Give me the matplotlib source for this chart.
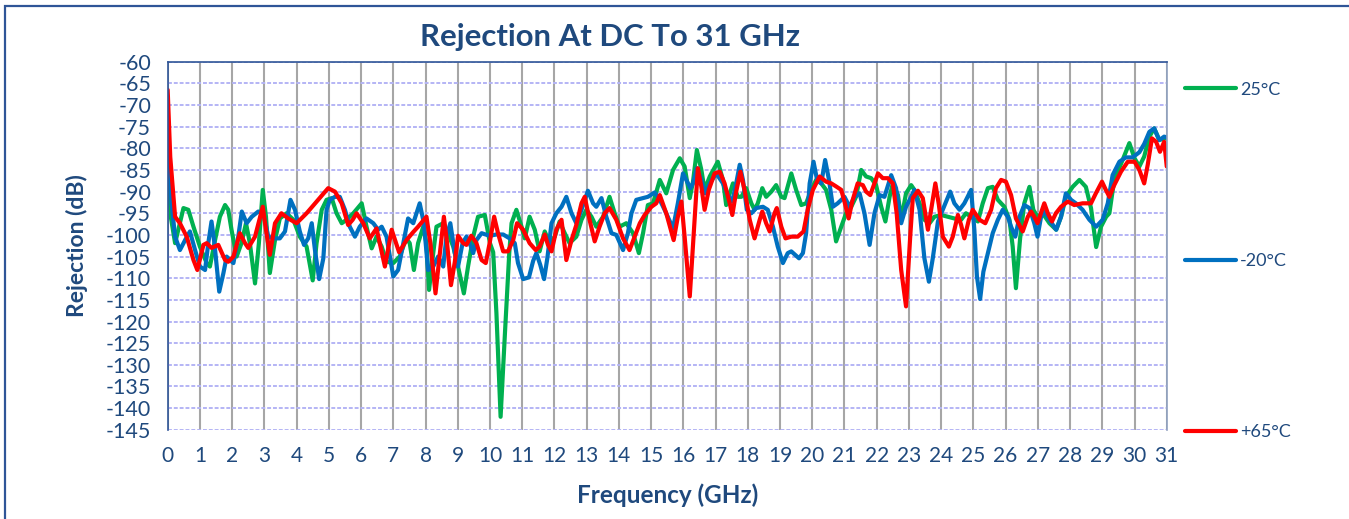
import matplotlib
matplotlib.use('Agg')
import matplotlib.pyplot as plt
from matplotlib.patches import Rectangle

plt.rcParams['font.family'] = ['Lato', 'DejaVu Sans']
plt.rcParams['axes.unicode_minus'] = False

NAVY = '#1F497D'
COLORS = {'25°C': '#00B050', '-20°C': '#0070C0', '+65°C': '#FF0000'}

# ---------- data (GHz, dB) ----------
freq_25 = [0.00, 0.10, 0.23, 0.49, 0.64, 0.80, 1.00, 1.21, 1.31, 1.47, 1.62, 1.78, 1.88,
           1.98, 2.14, 2.29, 2.43, 2.55, 2.71, 2.83, 2.95, 3.05, 3.17, 3.33, 3.48, 3.69,
           3.90, 4.10, 4.31, 4.50, 4.62, 4.78, 4.93, 5.09, 5.24, 5.40, 5.55, 5.76, 6.02,
           6.17, 6.33, 6.48, 6.64, 6.79, 7.00, 7.20, 7.40, 7.51, 7.64, 7.77, 7.93, 8.03,
           8.11, 8.24, 8.34, 8.55, 8.70, 8.86, 9.01, 9.19, 9.32, 9.48, 9.63, 9.84, 10.00,
           10.10, 10.20, 10.33, 10.47, 10.60, 10.67, 10.82, 10.98, 11.08, 11.23, 11.39,
           11.54, 11.70, 11.85, 12.01, 12.16, 12.32, 12.47, 12.68, 12.84, 12.99, 13.15,
           13.30, 13.51, 13.71, 13.87, 14.02, 14.23, 14.44, 14.62, 14.75, 14.90, 15.06,
           15.27, 15.47, 15.68, 15.89, 16.04, 16.20, 16.30, 16.42, 16.56, 16.66, 16.82,
           17.07, 17.23, 17.33, 17.44, 17.54, 17.69, 17.80, 17.95, 18.11, 18.21, 18.31,
           18.45, 18.57, 18.73, 18.88, 19.04, 19.14, 19.35, 19.50, 19.66, 19.81, 19.97,
           20.12, 20.28, 20.43, 20.59, 20.74, 20.90, 21.05, 21.21, 21.36, 21.52, 21.67,
           21.83, 21.98, 22.14, 22.27, 22.40, 22.50, 22.66, 22.76, 22.91, 23.07, 23.17,
           23.33, 23.48, 23.64, 23.79, 24.00, 24.21, 24.41, 24.62, 24.77, 24.93, 25.14,
           25.29, 25.45, 25.60, 25.76, 25.96, 26.12, 26.22, 26.32, 26.45, 26.58, 26.74,
           26.86, 26.99, 27.15, 27.36, 27.57, 27.72, 27.87, 28.08, 28.29, 28.49, 28.65,
           28.81, 28.96, 29.12, 29.22, 29.37, 29.63, 29.84, 30.00, 30.15, 30.30, 30.46,
           30.61, 30.77, 30.92, 31.00]
rej_25 = [-84.2, -96.0, -101.9, -93.8, -94.2, -98.1, -102.7, -106.5, -107.3, -101.2, -95.8,
          -93.1, -94.2, -98.8, -105.0, -101.9, -97.3, -101.9, -111.2, -101.9, -89.6, -95.8,
          -108.8, -101.2, -96.2, -95.0, -96.5, -100.4, -102.7, -110.5, -101.9, -94.2, -91.9,
          -91.5, -95.0, -97.3, -96.5, -95.0, -92.7, -98.1, -103.1, -100.4, -102.7, -106.2,
          -106.5, -105.0, -100.8, -101.9, -108.1, -101.9, -98.1, -101.9, -112.7, -104.2,
          -98.1, -97.3, -99.6, -102.7, -107.3, -113.5, -107.3, -100.4, -95.8, -95.4, -101.9,
          -104.0, -118.0, -142.0, -122.0, -104.0, -97.3, -94.2, -98.1, -100.8, -95.8, -98.8,
          -103.8, -99.2, -101.9, -100.4, -96.9, -99.6, -101.9, -100.4, -96.5, -94.2, -95.8,
          -98.1, -95.8, -91.2, -95.0, -98.1, -97.3, -99.6, -104.2, -99.6, -93.1, -92.7,
          -87.3, -90.4, -85.0, -82.3, -84.2, -91.5, -87.7, -80.4, -85.0, -89.6, -86.5,
          -83.1, -87.3, -93.1, -90.4, -88.1, -91.2, -91.2, -89.2, -92.7, -94.2, -92.7,
          -89.2, -91.2, -90.0, -88.5, -91.2, -91.5, -85.8, -89.6, -93.1, -92.7, -89.6,
          -87.3, -88.1, -89.6, -94.2, -101.5, -98.1, -95.0, -93.5, -91.2, -85.0, -86.5,
          -86.9, -88.5, -93.5, -96.9, -91.2, -88.1, -90.8, -96.5, -90.4, -88.5, -89.6,
          -92.7, -96.5, -97.3, -95.8, -95.4, -95.8, -96.2, -96.5, -95.0, -95.8, -96.9,
          -92.7, -89.2, -88.9, -91.9, -93.5, -96.5, -102.7, -112.3, -100.8, -92.7, -88.9,
          -94.2, -95.8, -95.0, -97.3, -98.8, -95.8, -91.2, -88.9, -87.3, -88.9, -93.8,
          -102.8, -98.1, -95.8, -95.0, -87.3, -82.7, -78.8, -82.3, -84.2, -81.9, -77.3,
          -75.4, -78.1, -77.7, -77.7]

freq_m20 = [0.00, 0.12, 0.23, 0.38, 0.54, 0.69, 0.85, 1.00, 1.16, 1.26, 1.36, 1.45, 1.60,
            1.73, 1.83, 1.93, 2.04, 2.19, 2.30, 2.45, 2.61, 2.81, 2.97, 3.12, 3.28, 3.48,
            3.64, 3.81, 3.95, 4.10, 4.23, 4.36, 4.47, 4.57, 4.70, 4.83, 4.93, 5.03, 5.19,
            5.34, 5.50, 5.65, 5.81, 5.96, 6.17, 6.38, 6.53, 6.64, 6.79, 7.00, 7.15, 7.31,
            7.46, 7.62, 7.82, 7.95, 8.08, 8.24, 8.39, 8.55, 8.65, 8.77, 8.91, 9.01, 9.15,
            9.27, 9.37, 9.48, 9.58, 9.74, 9.99, 10.20, 10.41, 10.61, 10.77, 10.87, 11.03,
            11.21, 11.34, 11.44, 11.56, 11.68, 11.78, 11.91, 12.06, 12.22, 12.37, 12.53,
            12.68, 12.84, 13.04, 13.20, 13.30, 13.46, 13.61, 13.77, 13.92, 14.13, 14.28,
            14.39, 14.54, 14.75, 14.90, 15.11, 15.27, 15.47, 15.68, 15.83, 15.99, 16.09,
            16.22, 16.30, 16.42, 16.56, 16.68, 16.82, 17.02, 17.23, 17.38, 17.52, 17.64,
            17.75, 17.85, 17.97, 18.11, 18.26, 18.47, 18.62, 18.78, 18.93, 19.09, 19.24,
            19.35, 19.59, 19.71, 19.81, 19.92, 20.04, 20.15, 20.28, 20.40, 20.52, 20.64,
            20.79, 21.00, 21.16, 21.31, 21.47, 21.62, 21.78, 21.93, 22.09, 22.24, 22.45,
            22.60, 22.76, 22.91, 23.07, 23.17, 23.33, 23.48, 23.62, 23.74, 23.90, 24.05,
            24.28, 24.41, 24.57, 24.72, 24.93, 25.03, 25.11, 25.21, 25.31, 25.45, 25.60,
            25.76, 25.91, 26.07, 26.17, 26.30, 26.43, 26.58, 26.74, 26.89, 26.99, 27.10,
            27.23, 27.36, 27.57, 27.72, 27.87, 28.03, 28.18, 28.39, 28.60, 28.81, 29.01,
            29.17, 29.32, 29.53, 29.73, 29.94, 30.15, 30.30, 30.46, 30.61, 30.77, 30.92,
            31.00]
rej_m20 = [-77.3, -92.7, -100.4, -103.5, -101.2, -99.2, -103.5, -107.3, -108.1, -101.9,
           -96.9, -101.9, -113.1, -108.8, -105.0, -105.8, -106.5, -100.4, -94.6, -97.3,
           -95.8, -94.6, -95.0, -100.4, -100.8, -100.8, -99.2, -91.9, -94.2, -99.2, -102.3,
           -100.8, -97.3, -103.5, -110.2, -105.4, -94.2, -91.9, -91.2, -91.2, -94.2, -98.1,
           -100.4, -98.1, -96.2, -97.3, -98.8, -98.1, -100.4, -109.6, -108.1, -101.9, -96.2,
           -97.3, -92.7, -97.3, -108.1, -107.3, -105.0, -107.3, -100.4, -97.3, -104.2,
           -107.3, -101.9, -100.4, -101.9, -104.2, -101.2, -99.6, -100.2, -99.9, -99.9,
           -100.8, -101.9, -106.5, -110.2, -109.8, -106.0, -104.2, -106.9, -110.2, -105.4,
           -97.3, -95.0, -93.5, -91.2, -95.0, -97.3, -94.2, -89.8, -92.7, -93.5, -91.5,
           -95.8, -99.6, -100.0, -103.5, -99.6, -95.0, -91.9, -91.5, -91.2, -90.2, -91.9,
           -95.0, -98.5, -92.7, -85.8, -87.3, -89.2, -88.1, -84.6, -87.3, -90.4, -88.1,
           -85.8, -88.1, -90.8, -92.3, -88.1, -83.8, -87.3, -94.2, -95.0, -93.8, -93.5,
           -94.2, -98.1, -102.7, -106.5, -104.2, -103.8, -105.4, -104.2, -99.6, -88.1,
           -83.1, -87.3, -88.1, -82.7, -87.3, -93.5, -92.7, -91.2, -93.5, -91.2, -90.4,
           -95.0, -102.3, -95.0, -90.8, -91.2, -86.2, -89.2, -97.3, -93.5, -91.2, -89.6,
           -94.2, -105.4, -110.8, -105.4, -96.9, -94.2, -90.0, -92.7, -94.2, -92.7, -89.6,
           -98.8, -109.6, -114.8, -108.5, -104.2, -99.6, -96.5, -94.2, -95.8, -98.1, -100.4,
           -95.8, -93.1, -93.8, -97.3, -100.4, -95.8, -94.6, -96.5, -98.8, -95.8, -90.4,
           -91.9, -92.7, -94.2, -96.5, -98.1, -96.5, -92.7, -86.2, -83.1, -82.1, -82.1,
           -80.9, -79.0, -76.2, -75.4, -78.1, -77.3, -77.5]

freq_65 = [0.00, 0.08, 0.23, 0.38, 0.59, 0.80, 0.92, 1.11, 1.21, 1.36, 1.57, 1.78, 1.88,
           2.04, 2.24, 2.40, 2.50, 2.71, 2.95, 3.05, 3.17, 3.33, 3.53, 3.74, 4.00, 4.31,
           4.62, 4.98, 5.19, 5.40, 5.60, 5.74, 5.86, 6.07, 6.27, 6.48, 6.74, 6.95, 7.18,
           7.41, 7.60, 7.77, 8.03, 8.15, 8.31, 8.44, 8.57, 8.67, 8.79, 8.91, 9.01, 9.17,
           9.27, 9.42, 9.58, 9.74, 9.87, 9.99, 10.13, 10.25, 10.41, 10.56, 10.72, 10.84,
           11.03, 11.23, 11.42, 11.54, 11.70, 11.80, 11.91, 12.06, 12.22, 12.37, 12.53,
           12.68, 12.84, 12.94, 13.09, 13.25, 13.40, 13.56, 13.71, 13.92, 14.13, 14.33,
           14.49, 14.65, 14.80, 15.01, 15.16, 15.27, 15.47, 15.70, 15.83, 15.94, 16.04,
           16.20, 16.30, 16.45, 16.56, 16.66, 16.79, 16.97, 17.13, 17.28, 17.44, 17.52,
           17.64, 17.77, 17.90, 18.06, 18.21, 18.37, 18.45, 18.57, 18.68, 18.83, 18.90,
           19.04, 19.17, 19.35, 19.55, 19.73, 19.86, 20.02, 20.23, 20.43, 20.59, 20.74,
           20.90, 21.00, 21.13, 21.24, 21.41, 21.57, 21.67, 21.80, 21.93, 22.04, 22.19,
           22.35, 22.50, 22.62, 22.76, 22.91, 23.04, 23.12, 23.28, 23.43, 23.59, 23.69,
           23.82, 23.93, 24.05, 24.24, 24.36, 24.52, 24.62, 24.72, 24.86, 24.98, 25.19,
           25.37, 25.55, 25.70, 25.86, 26.01, 26.17, 26.32, 26.53, 26.69, 26.79, 26.89,
           26.99, 27.13, 27.20, 27.31, 27.44, 27.56, 27.72, 27.93, 28.13, 28.39, 28.65,
           28.80, 28.99, 29.11, 29.22, 29.37, 29.58, 29.79, 30.00, 30.15, 30.30, 30.41,
           30.54, 30.67, 30.79, 30.92, 31.00]
rej_65 = [-66.5, -82.0, -95.8, -97.3, -100.4, -105.8, -108.1, -102.3, -101.9, -103.0,
          -102.3, -105.8, -106.2, -105.0, -99.6, -101.9, -103.0, -100.4, -93.5, -98.8,
          -104.6, -97.3, -95.0, -96.2, -97.3, -95.0, -92.3, -89.2, -90.0, -92.7, -97.7,
          -96.5, -95.0, -97.3, -100.8, -98.5, -107.3, -98.8, -104.0, -101.2, -99.5, -98.1,
          -95.8, -101.9, -113.5, -104.6, -95.8, -101.9, -111.6, -106.2, -100.2, -101.9,
          -102.3, -100.2, -101.9, -105.8, -106.5, -101.9, -95.8, -99.6, -103.8, -103.8,
          -101.2, -97.3, -98.8, -101.9, -103.5, -102.7, -99.9, -102.3, -103.8, -98.8,
          -96.5, -105.8, -101.2, -97.7, -92.7, -91.2, -96.5, -101.5, -98.1, -95.0, -93.8,
          -96.5, -100.8, -103.5, -100.4, -97.3, -95.4, -93.5, -92.7, -90.8, -95.0, -101.2,
          -95.8, -92.3, -100.4, -114.2, -102.3, -84.6, -88.9, -94.2, -89.6, -85.8, -85.4,
          -88.1, -92.7, -95.4, -90.0, -85.4, -89.6, -96.5, -100.8, -96.5, -94.6, -97.3,
          -99.2, -95.0, -93.8, -98.1, -100.8, -100.4, -100.4, -99.2, -94.2, -89.6, -86.5,
          -87.7, -88.1, -88.8, -89.6, -92.3, -96.2, -92.3, -88.1, -88.5, -90.0, -90.8,
          -88.1, -85.8, -86.9, -86.9, -88.1, -95.0, -108.1, -116.5, -100.4, -91.5, -89.8,
          -91.5, -98.8, -94.2, -88.1, -93.1, -100.4, -102.7, -100.4, -95.4, -97.7, -100.8,
          -96.5, -94.2, -96.5, -97.3, -94.2, -89.2, -87.3, -87.7, -90.8, -96.2, -99.2,
          -95.8, -94.6, -95.8, -97.3, -94.2, -92.7, -95.0, -96.9, -95.0, -93.5, -92.3,
          -93.1, -92.7, -92.7, -90.4, -87.7, -89.6, -91.2, -88.5, -85.4, -83.1, -83.1,
          -85.0, -88.1, -83.8, -77.7, -78.5, -80.8, -78.5, -84.2]

series = [('25°C', freq_25, rej_25), ('-20°C', freq_m20, rej_m20), ('+65°C', freq_65, rej_65)]

x_ticks = list(range(0, 32))
y_ticks = list(range(-145, -59, 5))

# ---------- figure ----------
fig = plt.figure(figsize=(13.49, 5.19), dpi=100)
fig.patches.append(Rectangle((5 / 1349, -0.1), 1.2, 1.1 - 6 / 519,
                             transform=fig.transFigure, fill=False,
                             edgecolor='#2F5597', linewidth=1.6))
ax = fig.add_axes([0.1243, 0.1719, 0.7406, 0.7092])

for name, f, r in series:
    ax.plot(f, r, color=COLORS[name], linewidth=3, label=name,
            solid_joinstyle='round', solid_capstyle='round')

ax.set_xlim(0, 31)
ax.set_ylim(-145, -60)
ax.set_xticks(x_ticks)
ax.set_yticks(y_ticks)
ax.tick_params(axis='both', length=0, colors=NAVY)
ax.tick_params(axis='y', labelsize=15.5, pad=12)
ax.tick_params(axis='x', labelsize=15, pad=12)

ax.set_axisbelow(True)
ax.grid(axis='x', color='#A6A6A6', linewidth=1.5)
ax.grid(axis='y', color='#B4B4F5', linewidth=1.4, linestyle=(0, (2, 1)))
for s in ['left', 'top', 'right']:
    ax.spines[s].set_color('#2F5597')
    ax.spines[s].set_linewidth(1.2)
ax.spines['right'].set_color('#8FA0BF')
ax.spines['bottom'].set_visible(False)

ax.set_ylabel('Rejection (dB)', fontsize=16.5, fontweight='bold', color=NAVY)
ax.yaxis.set_label_coords(-0.08, 0.5)
ax.set_xlabel('Frequency (GHz)', fontsize=17.5, fontweight='bold', color=NAVY)
ax.xaxis.set_label_coords(0.5, -0.145)

fig.text(0.452, 0.929, 'Rejection At DC To 31 GHz', ha='center', va='center',
         fontsize=22.4, fontweight='bold', color=NAVY)

leg = fig.legend(loc='center left', bbox_to_anchor=(1185 / 1349, 1 - 261 / 519),
                 frameon=False, fontsize=13, labelspacing=8.6, handlelength=2.8,
                 handletextpad=0.25, borderpad=0, borderaxespad=0)
for t in leg.get_texts():
    t.set_color(NAVY)

fig.savefig('out.png', dpi=100)
